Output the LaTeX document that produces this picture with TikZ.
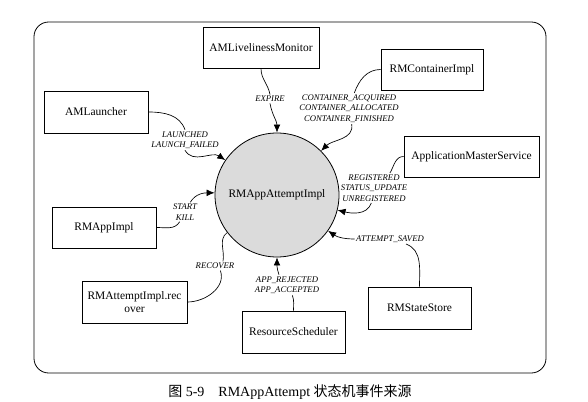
\documentclass[tikz,border=0pt]{standalone}
\usepackage{fontspec}
\setmainfont{Liberation Serif}
\newfontfamily\cjk{Noto Sans CJK SC}
\usetikzlibrary{arrows.meta}
\tikzset{
  box/.style 2 args={draw, line width=0.6pt, minimum width=#1*0.75pt, minimum height=#2*0.75pt,
     inner sep=0pt, align=center, font=\fontsize{8.6}{10}\selectfont},
  lab/.style={font=\fontsize{6.5}{7.9}\selectfont\itshape, align=center, inner sep=1pt},
  con/.style={line width=0.5pt},
  arr/.style={line width=0.5pt, -{Latex[length=6pt,width=5pt]}},
}
\begin{document}
\begin{tikzpicture}[x=0.75pt,y=-0.75pt]
\useasboundingbox (0,0) rectangle (588,402);
\draw[line width=0.6pt, rounded corners=11pt] (34,22) rectangle (546,373);
\node[circle, draw, line width=0.6pt, fill=black!14, minimum size=124*0.75pt, inner sep=0pt,
      font=\fontsize{8.6}{10}\selectfont] (c) at (277,195) {RMAppAttemptImpl};

\node[box={116}{41}] (amlm) at (261,47.5) {AMLivelinessMonitor};
\node[box={102}{41}] (rmc) at (432,69.5) {RMContainerImpl};
\node[box={104}{42}] (aml) at (96,112) {AMLauncher};
\node[box={135}{41}] (ams) at (471.5,156.5) {ApplicationMasterService};
\node[box={104}{41}] (rmapp) at (104,227.5) {RMAppImpl};
\node[box={105}{42}] (rec) at (134.5,302) {RMAttemptImpl.rec\\over};
\node[box={103}{42}] (rs) at (293.5,332) {ResourceScheduler};
\node[box={103}{42}] (rss) at (419.5,308) {RMStateStore};

\node[lab] (l1) at (270,99) {EXPIRE};
\node[lab] (l2) at (349,108.5) {CONTAINER\_ACQUIRED\\CONTAINER\_ALLOCATED\\CONTAINER\_FINISHED};
\node[lab] (l3) at (185,140) {LAUNCHED\\LAUNCH\_FAILED};
\node[lab] (l4) at (374,188) {REGISTERED\\STATUS\_UPDATE\\UNREGISTERED};
\node[lab] (l5) at (185,212) {START\\KILL};
\node[lab] (l6) at (215,266) {RECOVER};
\node[lab] (l7) at (287,285) {APP\_REJECTED\\APP\_ACCEPTED};
\node[lab] (l8) at (390,239) {ATTEMPT\_SAVED};

\draw[con] (amlm.south) to[out=-90,in=100] (l1.north);
\draw[arr] (l1.south) to[out=-80,in=90] (c.90);

\draw[con] (rmc.west) to[out=180,in=70] ([xshift=4]l2.north);
\draw[arr] ([xshift=2]l2.south) to[out=-80,in=45] (c.45);

\draw[con] (aml.east) to[out=0,in=110] (l3.north);
\draw[arr] (l3.south) to[out=-60,in=146] (c.146);

\draw[con] (ams.west) to[out=180,in=60] ([xshift=12]l4.north);
\draw[arr] ([xshift=-2]l4.south) to[out=-110,in=-14] (c.-14);

\draw[con] (rmapp.east) to[out=0,in=-120] ([xshift=-4]l5.south);
\draw[arr] ([xshift=4]l5.north) to[out=60,in=180] (c.178);

\draw[con] (rec.east) to[out=0,in=-70] ([xshift=4]l6.south);
\draw[con] ([xshift=6]l6.north) to[out=80,in=217] (c.217);

\draw[con] (rs.north) to[out=90,in=-70] ([xshift=4]l7.south);
\draw[arr] ([xshift=-6]l7.north) to[out=110,in=-90] (c.-90);

\draw[con] (rss.north) to[out=90,in=-20] ([xshift=12]l8.south);
\draw[arr] (l8.west) to[out=180,in=-35] (c.-35);

\node[anchor=west, inner sep=0pt, font=\fontsize{10.5}{12}\selectfont] (cap) at (168,392)
  {{\cjk 图} 5-9\hspace{1em}RMAppAttempt {\cjk 状态机事件来源}};
\end{tikzpicture}
\end{document}
